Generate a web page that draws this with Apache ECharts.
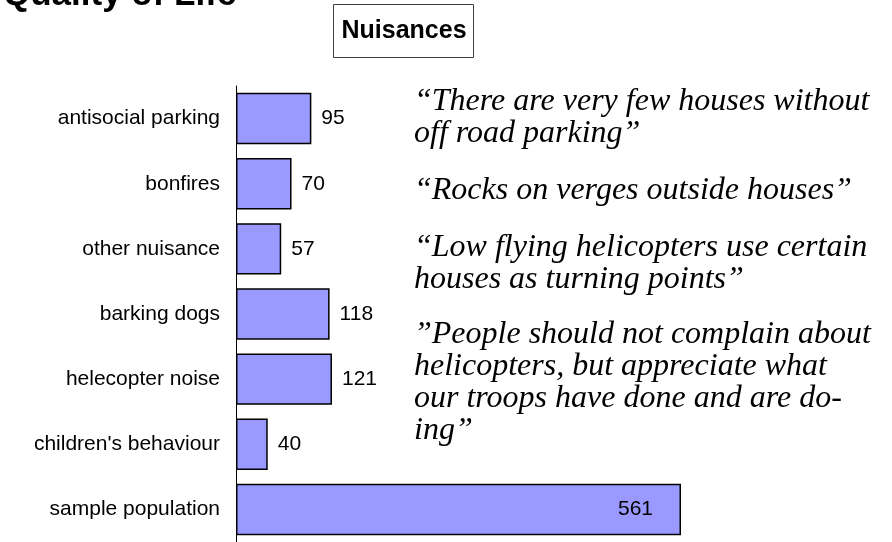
<!DOCTYPE html>
<html>
<head>
<meta charset="utf-8">
<script src="https://cdn.jsdelivr.net/npm/echarts@6/dist/echarts.min.js"></script>
<style>
  html, body { margin: 0; padding: 0; background: #fff; }
  #chart { width: 892px; height: 542px; }
</style>
</head>
<body>
<div id="chart"></div>
<script>
// categories and counts, top to bottom
const categories = [
  'antisocial parking',
  'bonfires',
  'other nuisance',
  'barking dogs',
  'helecopter noise',
  "children's behaviour",
  'sample population'
];
const counts = [95, 70, 57, 118, 121, 40, 561];

// quotes, one array per paragraph (as wrapped in the picture)
const quotes = [
  ['\u201cThere are very few houses without', 'off road parking\u201d'],
  ['\u201cRocks on verges outside houses\u201d'],
  ['\u201cLow flying helicopters use certain', 'houses as turning points\u201d'],
  ['\u201dPeople should not complain about', 'helicopters, but appreciate what', 'our troops have done and are do-', 'ing\u201d']
];

const chartTitle = 'Quality of Life';
const boxTitle = 'Nuisances';

const chart = echarts.init(document.getElementById('chart'), null, { renderer: 'canvas' });

// first-line baseline of each paragraph
const paraBaseline = [113, 202, 259, 346];
const lineStep = 32;
const quoteFont = 32;

const quoteEls = [];
quotes.forEach((para, p) => {
  para.forEach((line, i) => {
    quoteEls.push({
      type: 'text',
      x: 414,
      y: paraBaseline[p] + i * lineStep - 27,
      style: {
        text: line,
        fill: '#000',
        font: 'italic ' + quoteFont + 'px "Liberation Serif", "DejaVu Serif", serif'
      }
    });
  });
});

const lastIdx = counts.length - 1;
const barData = counts.map((v, i) => i === lastIdx
  ? { value: v, label: { position: 'insideRight', distance: 28 } }
  : v);

const option = {
  backgroundColor: '#fff',
  animation: false,
  grid: {
    left: 236,
    top: 86,
    width: 445,
    height: 460
  },
  xAxis: {
    type: 'value',
    min: 0,
    max: 'dataMax',
    show: false
  },
  yAxis: {
    type: 'category',
    inverse: true,
    data: categories,
    axisLine: { lineStyle: { color: '#000', width: 1 } },
    axisTick: { length: 6, lineStyle: { color: '#808080' } },
    axisLabel: {
      color: '#000',
      fontSize: 21,
      fontFamily: '"Liberation Sans", Arial, sans-serif',
      margin: 16
    }
  },
  series: [{
    type: 'bar',
    data: barData,
    barCategoryGap: '21%',
    itemStyle: {
      color: '#9999FF',
      borderColor: '#000',
      borderWidth: 1.5
    },
    label: {
      show: true,
      position: 'right',
      distance: 10,
      color: '#000',
      fontSize: 21,
      fontFamily: '"Liberation Sans", Arial, sans-serif'
    }
  }],
  graphic: [
    {
      type: 'text',
      x: 3,
      y: -22,
      style: {
        text: chartTitle,
        fill: '#000',
        font: 'bold 35px "Liberation Sans", Arial, sans-serif'
      }
    },
    {
      type: 'rect',
      shape: { x: 333.5, y: 4.5, width: 140, height: 53 },
      style: { fill: '#fff', stroke: '#404040', lineWidth: 1 }
    },
    {
      type: 'text',
      x: 404,
      y: 31,
      style: {
        text: boxTitle,
        fill: '#000',
        align: 'center',
        verticalAlign: 'middle',
        font: 'bold 25px "Liberation Sans", Arial, sans-serif'
      }
    }
  ].concat(quoteEls)
};

chart.setOption(option);
</script>
</body>
</html>
